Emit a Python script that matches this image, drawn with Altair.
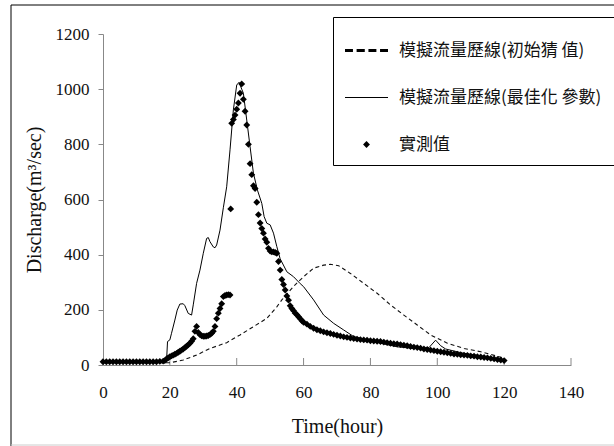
import altair as alt
import pandas as pd

# ---------------- data ----------------
obs_t = [0, 1, 2, 3, 4, 5, 6, 7, 8, 9, 10, 11, 12, 13, 14, 15, 16, 17, 18,
         18.5, 19, 19.5, 20, 20.5, 21, 21.5, 22, 22.5, 23, 23.5, 24, 24.5, 25, 25.5, 26, 26.5, 27,
         27.5, 28, 28.5, 29, 29.5, 30, 30.5, 31, 31.5, 32, 32.5, 33, 33.5, 34, 34.5, 35, 35.5, 36,
         36.5, 37, 37.5, 38, 38.2, 38.5, 39, 39.5, 40, 40.5, 41, 41.5, 42, 42.5, 43, 43.5, 44, 44.5,
         45, 45.5, 46, 46.5, 47, 47.5, 48, 48.5, 49, 49.5, 50, 50.5, 51, 51.5, 52, 52.5, 53, 53.5,
         54, 54.5, 55, 55.5, 56, 56.5, 57, 57.5, 58, 58.5, 59, 59.5, 60,
         61, 62, 63, 64, 65, 66, 67, 68, 69, 70, 71, 72, 73, 74, 75, 76, 77, 78, 79, 80,
         81, 82, 83, 84, 85, 86, 87, 88, 89, 90, 91, 92, 93, 94, 95, 96, 97, 98, 99, 100,
         101, 102, 103, 104, 105, 106, 107, 108, 109, 110, 111, 112, 113, 114, 115, 116, 117, 118, 119, 120]
obs_q = [12, 12, 12, 12, 12, 12, 12, 12, 12, 12, 12, 12, 12, 12, 12, 12, 12, 13, 14,
         16, 22, 26, 30, 33, 36, 39, 42, 46, 50, 54, 58, 63, 68, 73, 79, 86, 95,
         122, 140, 118, 110, 106, 104, 104, 105, 107, 110, 115, 122, 140, 168, 188, 205, 222, 248,
         252, 254, 255, 254, 566, 876, 890, 906, 927, 950, 985, 1019, 963, 920, 870, 800, 730, 690,
         650, 640, 590, 545, 515, 495, 478, 457, 445, 423, 413, 410, 410, 408, 405, 375, 344, 310,
         292, 272, 250, 235, 215, 205, 197, 188, 182, 175, 168, 160, 155,
         148, 140, 133, 128, 124, 120, 117, 114, 111, 108, 105, 102, 100, 98, 96, 94, 92, 91, 90, 88,
         87, 86, 85, 83, 81, 79, 77, 76, 74, 72, 70, 67, 65, 63, 61, 58, 56, 54, 52, 50,
         48, 46, 44, 42, 40, 39, 37, 36, 35, 33, 32, 30, 29, 27, 26, 24, 22, 20, 18, 16]

opt_t = [0, 5, 10, 15, 19, 19.3, 20, 20.5, 21.5, 22.2, 23, 24, 24.5, 25.5, 26.5, 27, 28, 29, 30,
         31, 31.5, 32, 33, 33.5, 34, 35, 36, 37, 38, 39, 40, 40.7, 41.5, 42, 43, 44, 45, 46.2,
         47.5, 48.2, 49, 50, 51, 52, 53, 55, 57, 59, 60, 63, 66, 69, 72, 75, 79, 83, 88, 93,
         97.5, 99.5, 101, 102.5, 108, 113, 118, 120]
opt_q = [10, 10, 10, 10, 12, 85, 91, 115, 163, 199, 221, 222, 215, 187, 181, 218, 296, 344, 405,
         459, 462, 447, 428, 425, 435, 489, 570, 646, 780, 925, 1015, 1025, 1000, 985, 888, 791, 695, 634,
         586, 538, 514, 508, 478, 429, 385, 338, 320, 295, 284, 236, 181, 151, 127, 103, 91, 79, 66, 60,
         63, 90, 70, 58, 42, 33, 22, 14]

init_t = [0, 19, 20, 24, 28, 32, 37, 41, 45, 49, 52, 53.5, 57.4, 60, 63, 66, 68, 70.5, 74, 78,
          82, 86, 90, 94, 98, 103, 108, 113, 117, 120]
init_q = [8, 8, 8, 18, 36, 60, 81, 109, 139, 169, 211, 236, 290, 320, 351, 362, 365, 360, 332, 296,
          260, 218, 181, 145, 109, 79, 60, 48, 35, 25]

x_ticks = [20, 40, 60, 80, 100, 120, 140]
y_ticks = [0, 200, 400, 600, 800, 1000, 1200]

series_names = ["模擬流量歷線(初始猜 值)", "模擬流量歷線(最佳化 參數)", "實測值"]

# legend / marker symbol paths (unit square [-1, 1])
dash_path = ("M-1,-0.07H-0.63V0.07H-1Z M-0.46,-0.07H-0.08V0.07H-0.46Z "
             "M0.09,-0.07H0.46V0.07H0.09Z M0.63,-0.07H1V0.07H0.63Z")
solid_path = "M-1,-0.025H1V0.025H-1Z"
diamond_path = "M0,-0.16L0.16,0L0,0.16L-0.16,0Z"

obs_df = pd.DataFrame({"t": obs_t, "q": obs_q, "series": series_names[2]})
opt_df = pd.DataFrame({"t": opt_t, "q": opt_q})
init_df = pd.DataFrame({"t": init_t, "q": init_q})
tick_df = pd.DataFrame({"t": x_ticks})
one_df = pd.DataFrame({"a": [0]})

SERIF = "Liberation Serif"
CJK = "Noto Sans CJK TC"
GREY = "#888888"

x_scale = alt.Scale(domain=[0, 140], nice=False, zero=False)
y_scale = alt.Scale(domain=[0, 1200], nice=False)

x_axis = alt.Axis(title="Time(hour)", values=[0] + x_ticks, format="d", tickSize=0, grid=False,
                  domainColor=GREY, labelFont=SERIF, labelFontSize=17, labelColor="#111",
                  labelPadding=19, titleFont=SERIF, titleFontSize=20, titleFontWeight="normal",
                  titleColor="#111", titlePadding=16, labelFlush=False)
y_axis = alt.Axis(title="Discharge(m³/sec)", values=y_ticks, format="d",
                  tickSize=5, tickColor=GREY, domainColor=GREY, grid=False,
                  labelFont=SERIF, labelFontSize=17, labelColor="#111", labelPadding=9,
                  titleFont=SERIF, titleFontSize=20, titleFontWeight="normal",
                  titleColor="#111", titlePadding=11, labelFlush=False)

border = alt.Chart(one_df).mark_rect(fillOpacity=0, stroke="black", strokeWidth=1).encode(
    x=alt.value(-92), x2=alt.value(530), y=alt.value(-29), y2=alt.value(430))
bottom_line = alt.Chart(one_df).mark_rule(color="#cccccc", strokeWidth=1).encode(
    x=alt.value(-92), x2=alt.value(530), y=alt.value(411))

base_axes = alt.Chart(init_df).mark_line(opacity=0).encode(
    x=alt.X("t:Q", scale=x_scale, axis=x_axis),
    y=alt.Y("q:Q", scale=y_scale, axis=y_axis))

xticks = alt.Chart(tick_df).mark_rule(color=GREY, strokeWidth=1).encode(
    x=alt.X("t:Q", scale=x_scale), y=alt.value(331), y2=alt.value(324))

init_line = alt.Chart(init_df).mark_line(color="#111111", strokeWidth=1.1, strokeDash=[4, 3]).encode(
    x=alt.X("t:Q", scale=x_scale), y=alt.Y("q:Q", scale=y_scale))

opt_line = alt.Chart(opt_df).mark_line(color="black", strokeWidth=1).encode(
    x=alt.X("t:Q", scale=x_scale), y=alt.Y("q:Q", scale=y_scale))

obs_points = alt.Chart(obs_df).mark_point(filled=True, color="black", opacity=1, size=1849).encode(
    x=alt.X("t:Q", scale=x_scale),
    y=alt.Y("q:Q", scale=y_scale),
    shape=alt.Shape("series:N",
                    scale=alt.Scale(domain=series_names,
                                    range=[dash_path, solid_path, diamond_path]),
                    legend=alt.Legend(title=None, orient="none", legendX=230, legendY=-17,
                                      padding=12, rowPadding=17, symbolSize=1849,
                                      symbolFillColor="black", symbolStrokeWidth=0,
                                      symbolOpacity=1, labelFont=CJK, labelFontSize=17,
                                      labelColor="#111", labelOffset=11, labelLimit=400,
                                      strokeColor="black", fillColor="white")))

chart = alt.layer(border, bottom_line, base_axes, xticks, init_line, opt_line, obs_points).properties(
    width=468, height=331,
    autosize=alt.AutoSizeParams(type="none"),
    padding={"left": 103, "top": 34, "right": 43, "bottom": 81},
    background="white",
).configure_view(stroke=None)

chart.save("out.html", embed_options={"renderer": "svg", "actions": False})
